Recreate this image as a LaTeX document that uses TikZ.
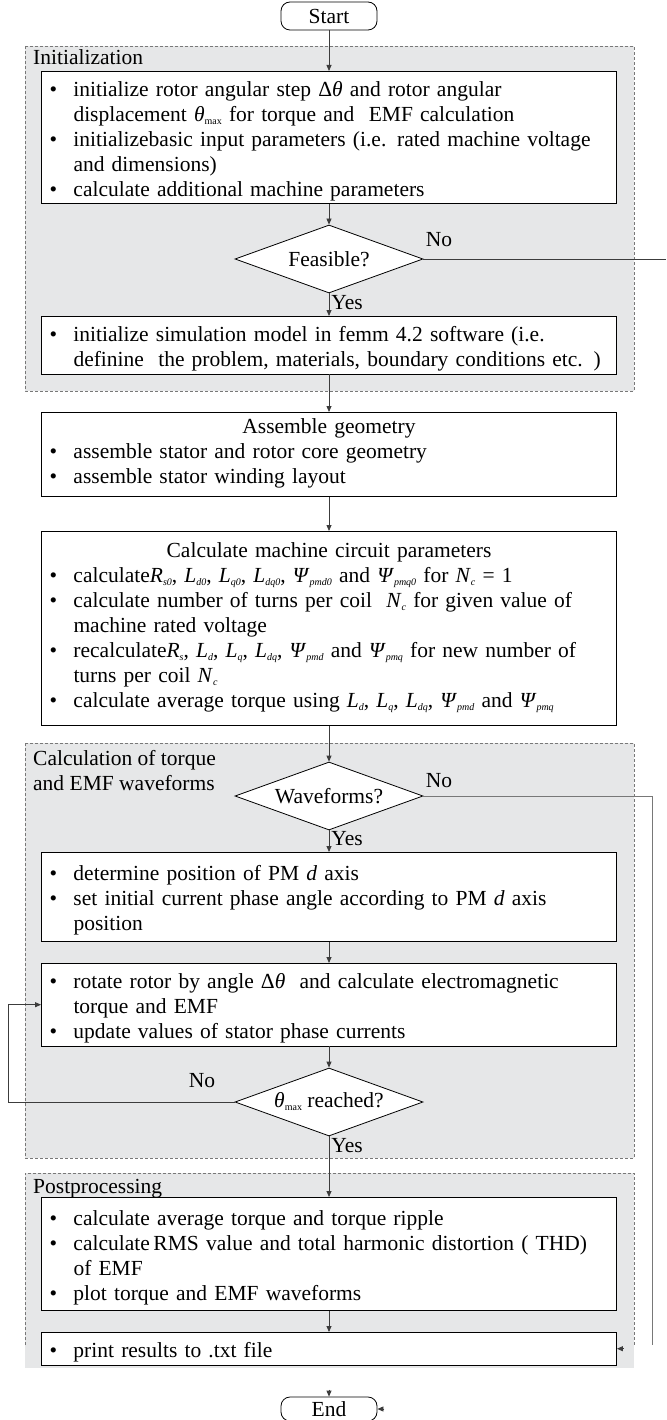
\documentclass[tikz,border=0pt]{standalone}
\usepackage{fontspec}
\setmainfont{Liberation Serif}
\usetikzlibrary{shapes.geometric,arrows.meta}

\definecolor{grpfill}{RGB}{230,231,232}
\definecolor{grpline}{RGB}{120,120,120}
\definecolor{linecol}{RGB}{60,60,60}

\newcommand{\bitem}[1]{\par\noindent\makebox[24pt][l]{\textbullet}\parbox[t]{535pt}{\raggedright #1\strut}\par\prevdepth=\dp\strutbox}
\newcommand{\boxtitle}[1]{{\centering #1\par}}
\newcommand{\isub}[1]{\raisebox{-3pt}{\fontsize{10}{10}\selectfont\textit{#1}}}
\newcommand{\thmax}{\textit{θ}\raisebox{-3pt}{\fontsize{10}{10}\selectfont max}}

\begin{document}
\begin{tikzpicture}[x=1pt,y=-1pt,
  font=\fontsize{21.5}{25}\selectfont,
  >={Triangle[length=6pt,width=5pt]},
  group/.style={fill=grpfill,draw=grpline,dash pattern=on 3pt off 2pt,line width=0.6pt},
  stepbox/.style={draw,fill=white,line width=0.9pt,anchor=north,text width=559pt,inner xsep=8pt,inner ysep=0pt,align=left},
  terminal/.style={draw,rounded corners=9pt,minimum width=96pt,minimum height=28pt,inner sep=0pt,line width=0.8pt},
  decision/.style={diamond,draw,fill=white,aspect=2.76,minimum width=188pt,minimum height=68pt,inner sep=1pt,line width=0.8pt},
  flow/.style={draw=linecol,line width=0.8pt}]

\useasboundingbox (0,0) rectangle (666,1420);

% groups
\draw [group] (25,46) rectangle (634,391);
\draw [group] (25,743) rectangle (634,1158);
\fill [grpfill] (25,1173) rectangle (634,1368);
\draw [group,fill=none] (25,1345) -- (25,1173) -- (634,1173) -- (634,1345);

\node (initlabel)	at (33,65)	[anchor=base west,inner sep=0pt] {Initialization};
\node (calclabel)	at (33,750)	[anchor=north west,inner sep=0pt,align=left] {Calculation of torque\\and EMF waveforms};
\node (postlabel)	at (33,1193)	[anchor=base west,inner sep=0pt] {Postprocessing};

\node (start)	at (329,16)	[terminal] {Start};
\node (init)	at (329,71)	[stepbox,minimum height=131pt] {%
\bitem{initialize rotor angular step Δ\textit{θ} and rotor angular\newline displacement \thmax{} for torque and \ EMF calculation}
\bitem{initializebasic input parameters (i.e. rated machine voltage\newline and dimensions)}
\bitem{calculate additional machine parameters}};
\node (feas)	at (329,259)	[decision] {Feasible?};
\coordinate (feasout)	at (666,259);
\node (sim)	at (329,316)	[stepbox,minimum height=55pt] {%
\bitem{initialize simulation model in femm 4.2 software (i.e.\newline definine \ the problem, materials, boundary conditions etc. )}};

\node (asm)	at (329,412)	[stepbox,minimum height=84pt] {%
\boxtitle{Assemble geometry}
\bitem{assemble stator and rotor core geometry}
\bitem{assemble stator winding layout}};

\node (circ)	at (329,531)	[stepbox,minimum height=194pt] {%
\boxtitle{Calculate machine circuit parameters}
\bitem{calculate\textit{R}\isub{s0}, \textit{L}\isub{d0}, \textit{L}\isub{q0}, \textit{L}\isub{dq0}, \textit{Ψ}\isub{pmd0} and \textit{Ψ}\isub{pmq0} for \textit{N}\isub{c} = 1}
\bitem{calculate number of turns per coil \ \textit{N}\isub{c} for given value of\newline machine rated voltage}
\bitem{recalculate\textit{R}\isub{s}, \textit{L}\isub{d}, \textit{L}\isub{q}, \textit{L}\isub{dq}, \textit{Ψ}\isub{pmd} and \textit{Ψ}\isub{pmq} for new number of\newline turns per coil \textit{N}\isub{c}}
\bitem{calculate average torque using \textit{L}\isub{d}, \textit{L}\isub{q}, \textit{L}\isub{dq}, \textit{Ψ}\isub{pmd} and \textit{Ψ}\isub{pmq}}};

\node (wave)	at (329,796)	[decision] {Waveforms?};
\coordinate (waveout)	at (652,796);
\coordinate (waveend)	at (652,1345);
\node (pmd)	at (329,852)	[stepbox,minimum height=89pt] {%
\bitem{determine position of PM \textit{d} axis}
\bitem{set initial current phase angle according to PM \textit{d} axis\newline position}};
\node (rot)	at (329,963)	[stepbox,minimum height=82pt] {%
\bitem{rotate rotor by angle Δ\textit{θ} \ and calculate electromagnetic\newline torque and EMF}
\bitem{update values of stator phase currents}};
\node (tmax)	at (329,1102)	[decision] {\thmax{} reached?};
\coordinate (loopx)	at (8,1102);

\node (post)	at (329,1197)	[stepbox,minimum height=113pt] {%
\bitem{calculate average torque and torque ripple}
\bitem{calculate\,RMS value and total harmonic distortion ( THD)\newline of EMF}
\bitem{plot torque and EMF waveforms}};
\node (prnt)	at (329,1332)	[stepbox,minimum height=29pt] {%
\bitem{print results to .txt file}};
\node (fin)	at (329,1409)	[terminal,minimum height=24pt] {End};

% connectors
\draw [flow,->] (start) -- (init);
\draw [flow,->] (init) -- (feas);
\draw [flow] (feas.east) -- node[pos=0,anchor=base west,xshift=2pt,yshift=12pt,inner sep=0pt]{No} (feasout);
\draw [flow,->] (feas) -- node[pos=0,anchor=base west,xshift=2pt,yshift=-16pt,inner sep=0pt]{Yes} (sim);
\draw [flow,->] (sim) -- (asm);
\draw [flow,->] (asm) -- (circ);
\draw [flow,->] (circ) -- (wave);
\draw [flow,draw=grpline] (wave.east) -- node[pos=0,anchor=base west,xshift=2pt,yshift=9pt,inner sep=0pt]{No} (waveout) -- (waveend);
\draw [flow,->] (wave) -- node[pos=0,anchor=base west,xshift=2pt,yshift=-15pt,inner sep=0pt]{Yes} (pmd);
\draw [flow,->] (pmd) -- (rot);
\draw [flow,->] (rot) -- (tmax);
\draw [flow,->] (tmax.west) -- node[pos=0,anchor=base east,xshift=-19pt,yshift=15pt,inner sep=0pt]{No} (loopx) |- (rot.west);
\draw [flow,->] (tmax) -- node[pos=0,anchor=base west,xshift=2pt,yshift=-16pt,inner sep=0pt]{Yes} (post);
\draw [flow,->] (post) -- (prnt);
\draw [flow,->] ([xshift=7pt]prnt.east) -- (prnt.east);
\draw [flow,->] ([yshift=7pt]fin.north) -- (fin.north);
\draw [flow,->] ([xshift=7pt]fin.east) -- (fin.east);

\end{tikzpicture}
\end{document}
